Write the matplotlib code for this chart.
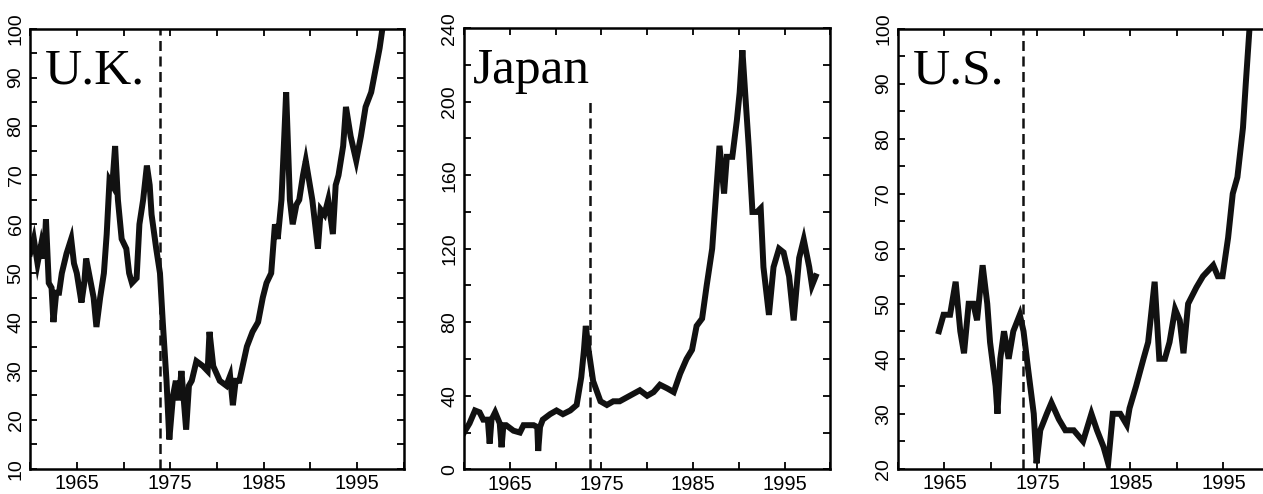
import matplotlib
matplotlib.use("Agg")
import matplotlib.pyplot as plt
from matplotlib.ticker import MultipleLocator, FixedLocator

# U.K. series (years, index values)
uk_years = [1960.0, 1960.4, 1960.8, 1961.2, 1961.5, 1961.7, 1962.0, 1962.3, 1962.5, 1962.8,
            1963.1, 1963.4, 1963.9, 1964.4, 1964.7, 1965.0, 1965.5, 1965.8, 1966.0, 1966.3,
            1966.8, 1967.1, 1967.5, 1967.9, 1968.2, 1968.5, 1968.8, 1969.1, 1969.4, 1969.8,
            1970.3, 1970.6, 1970.9, 1971.4, 1971.7, 1972.1, 1972.5, 1972.8, 1973.0, 1973.5,
            1973.9, 1974.2, 1974.6, 1974.9, 1975.3, 1975.6, 1975.9, 1976.2, 1976.7, 1977.0,
            1977.3, 1977.8, 1978.5, 1979.0, 1979.2, 1979.6, 1980.3, 1981.0, 1981.4, 1981.7,
            1982.0, 1982.4, 1983.2, 1983.8, 1984.4, 1984.9, 1985.3, 1985.8, 1986.2, 1986.5,
            1986.9, 1987.2, 1987.4, 1987.8, 1988.1, 1988.5, 1988.8, 1989.2, 1989.5, 1990.2,
            1990.8, 1991.1, 1991.5, 1991.9, 1992.4, 1992.7, 1993.0, 1993.5, 1993.8, 1994.3,
            1994.9, 1995.4, 1995.9, 1996.5, 1996.8, 1997.4, 1997.7]
uk_values = [54, 57, 52, 56, 53, 61, 48, 47, 40, 46,
             46, 50, 54, 57, 52, 50, 44, 48, 53, 50,
             45, 39, 45, 50, 58, 69, 68, 76, 65, 57,
             55, 50, 48, 49, 60, 65, 72, 68, 62, 55,
             50, 40, 28, 16, 25, 28, 24, 30, 18, 27,
             28, 32, 31, 30, 38, 31, 28, 27, 29, 23,
             28, 28, 35, 38, 40, 45, 48, 50, 60, 57,
             65, 78, 87, 65, 60, 64, 65, 70, 73, 65,
             55, 63, 62, 65, 58, 68, 70, 76, 84, 78,
             73, 78, 84, 87, 90, 96, 100]

# Japan series
jp_years = [1960.0, 1960.6, 1961.2, 1961.7, 1962.1, 1962.6, 1962.8, 1963.0, 1963.4, 1963.9,
            1964.1, 1964.3, 1964.6, 1965.4, 1966.1, 1966.5, 1967.6, 1968.0, 1968.1, 1968.3,
            1968.6, 1969.4, 1970.1, 1970.8, 1971.6, 1972.3, 1972.8, 1973.1, 1973.3, 1973.6,
            1974.1, 1974.9, 1975.6, 1976.3, 1977.0, 1978.1, 1979.2, 1980.0, 1980.7, 1981.4,
            1982.2, 1982.9, 1983.6, 1984.3, 1984.9, 1985.4, 1986.0, 1986.5, 1987.1, 1987.6,
            1987.9, 1988.4, 1988.7, 1989.3, 1989.8, 1990.1, 1990.4, 1990.7, 1991.1, 1991.5,
            1992.0, 1992.4, 1992.7, 1993.3, 1993.8, 1994.4, 1994.9, 1995.5, 1996.0, 1996.6,
            1997.1, 1997.7, 1998.0, 1998.4]
jp_values = [20, 25, 32, 31, 27, 27, 14, 27, 31, 25,
             12, 24, 24, 21, 20, 24, 24, 23, 10, 23,
             27, 30, 32, 30, 32, 35, 50, 65, 78, 65,
             48, 37, 35, 37, 37, 40, 43, 40, 42, 46,
             44, 42, 52, 60, 65, 78, 82, 100, 120, 155,
             176, 150, 170, 170, 190, 205, 228, 205, 175, 140,
             140, 142, 110, 84, 110, 120, 118, 105, 81, 115,
             125, 110, 100, 105]

# U.S. series
us_years = [1964.4, 1964.9, 1965.6, 1966.2, 1966.7, 1967.1, 1967.6, 1968.1, 1968.5, 1969.1,
            1969.6, 1969.9, 1970.5, 1970.7, 1971.0, 1971.4, 1971.9, 1972.4, 1973.1, 1973.5,
            1974.0, 1974.6, 1974.9, 1975.3, 1976.0, 1976.5, 1977.3, 1978.0, 1978.9, 1979.9,
            1980.8, 1981.4, 1982.1, 1982.6, 1983.1, 1983.9, 1984.6, 1984.9, 1985.6, 1986.4,
            1986.9, 1987.6, 1988.1, 1988.7, 1989.2, 1989.8, 1990.3, 1990.7, 1991.2, 1992.1,
            1992.8, 1993.9, 1994.4, 1994.9, 1995.5, 1996.0, 1996.5, 1997.1, 1997.4, 1997.8]
us_values = [45, 48, 48, 54, 45, 41, 50, 50, 47, 57,
             50, 43, 35, 30, 40, 45, 40, 45, 48, 45,
             38, 30, 21, 27, 30, 32, 29, 27, 27, 25,
             30, 27, 24, 21, 30, 30, 28, 31, 35, 40,
             43, 54, 40, 40, 43, 49, 47, 41, 50, 53,
             55, 57, 55, 55, 62, 70, 73, 82, 90, 100]

panels = [
    # name, years, values, ylim, y tick step, y label step, crash year, dash top, axes rect
    ("U.K.", uk_years, uk_values, (10, 100), 5, 10, 1973.9, 100, [0.0238, 0.051, 0.296, 0.891]),
    ("Japan", jp_years, jp_values, (0, 240), 20, 40, 1973.8, 200, [0.3674, 0.050, 0.290, 0.893]),
    ("U.S.", us_years, us_values, (20, 100), 5, 10, 1973.4, 100, [0.711, 0.051, 0.2945, 0.891]),
]

fig = plt.figure(figsize=(12.63, 4.94), dpi=100)

for name, xs, ys, ylim, ystep, ylab, crash, dtop, rect in panels:
    ax = fig.add_axes(rect)
    ax.plot(xs, ys, color="#111111", lw=4.3, solid_joinstyle="miter")
    ax.plot([crash, crash], [ylim[0], dtop], color="#111111", lw=1.8,
            linestyle=(0, (4, 2.2)))
    ax.set_xlim(1960, 2000)
    ax.set_ylim(*ylim)

    ax.xaxis.set_major_locator(FixedLocator([1965, 1975, 1985, 1995]))
    ax.xaxis.set_minor_locator(FixedLocator([1960, 1970, 1980, 1990, 2000]))
    ax.yaxis.set_major_locator(MultipleLocator(ylab))
    ax.yaxis.set_minor_locator(MultipleLocator(ystep))
    ax.tick_params(which="both", direction="in", top=True, right=True,
                   length=5, width=1.3)
    ax.tick_params(axis="x", labelsize=14.5, pad=4)
    ax.tick_params(axis="y", labelsize=14, pad=4)
    for lab in ax.get_xticklabels():
        lab.set_fontfamily("Liberation Sans")
    for lab in ax.get_yticklabels():
        lab.set_fontfamily("Liberation Sans")
        lab.set_rotation(90)
        lab.set_va("center")
    for sp in ax.spines.values():
        sp.set_linewidth(1.8)

    ax.text(0.04 if name != "Japan" else 0.025, 0.875, name, transform=ax.transAxes,
            fontsize=37, family="Liberation Serif", ha="left", va="baseline")

fig.savefig("out.png", dpi=100)
